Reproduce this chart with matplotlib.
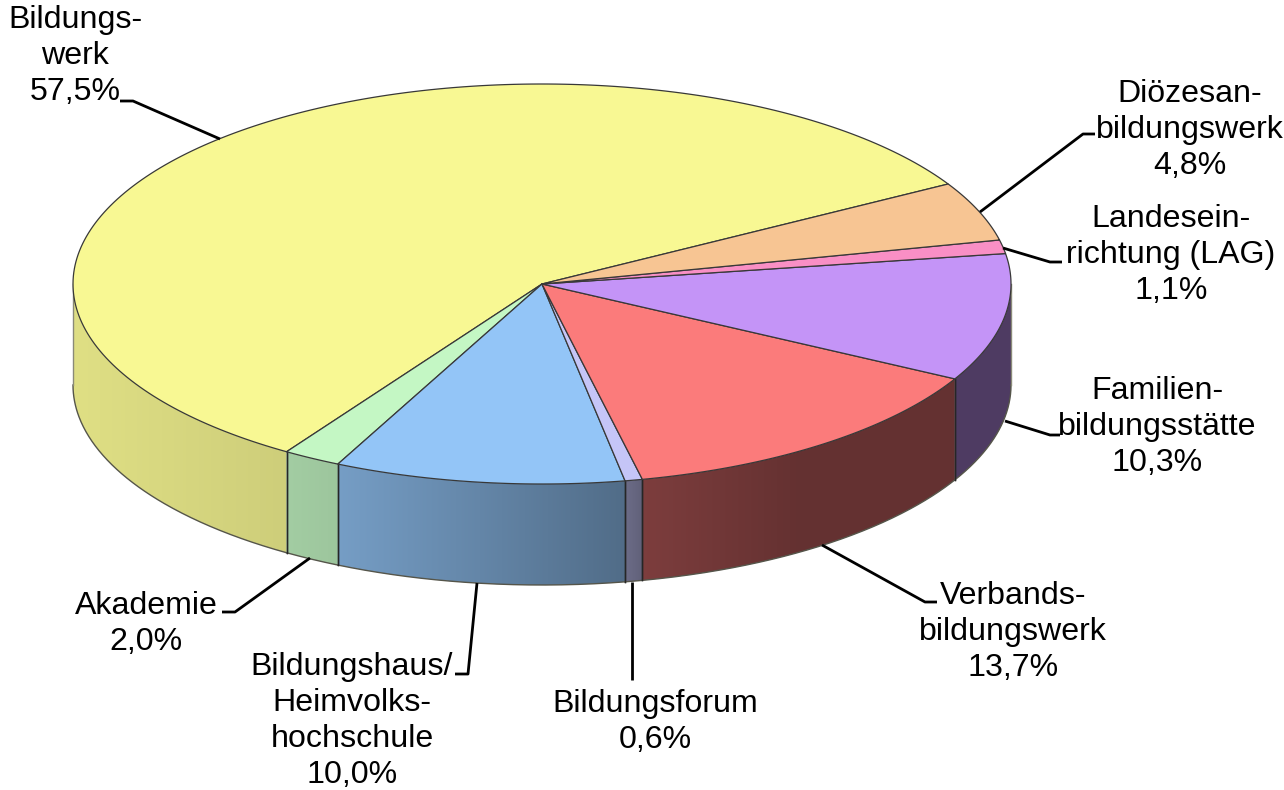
import numpy as np
import matplotlib
matplotlib.use("Agg")
from matplotlib import pyplot as plt
from matplotlib.colors import to_rgb
from matplotlib.patches import Polygon

plt.rcParams['font.family'] = ['Liberation Sans', 'DejaVu Sans']

# values, counter clockwise starting at the Bildungswerk slice
names = ["Bildungs-\nwerk", "Akademie", "Bildungshaus/\nHeimvolks-\nhochschule", "Bildungsforum",
         "Verbands-\nbildungswerk", "Familien-\nbildungsstätte", "Landesein-\nrichtung (LAG)",
         "Diözesan-\nbildungswerk"]
shares = [57.5, 2.0, 10.0, 0.6, 13.7, 10.3, 1.1, 4.8]
colors = ["#f8f893", "#c4f7c4", "#93c5f7", "#c5c5f7", "#fb7b7b", "#c494f7", "#f98fc5", "#f7c593"]

# label centres and leader lines, in pixels
label_pos = [(75, 56), (146, 624), (352, 721), (655, 722), (1013, 632), (1157, 427), (1171, 255), (1190, 130)]
leaders = [[(220, 139), (133, 101), (120, 101)],
           [(310, 558), (235, 612), (222, 612)],
           [(477, 583), (468, 674), (455, 674)],
           [(632, 582), (632, 680)],
           [(822, 545), (925, 602), (937, 602)],
           [(1005, 421), (1050, 435), (1060, 435)],
           [(1003, 248), (1050, 262), (1062, 262)],
           [(980, 212), (1083, 134), (1095, 134)]]

cx, cy = 542, 284
rx, ry = 469, 200
depth = 101
start = 30

# how dark the wall gets going left to right
shade_x = [73, 287, 338, 480, 625, 640, 800, 1012]
shade_f = [0.90, 0.83, 0.80, 0.68, 0.55, 0.50, 0.40, 0.40]


def ell(t):
    t = np.radians(t)
    return cx + rx * np.cos(t), cy - ry * np.sin(t)


fig = plt.figure(figsize=(12.84, 7.9), dpi=100)
ax = fig.add_axes([0, 0, 1, 1])

edges = start + np.cumsum([0] + shares) * 3.6

# side walls, only the front half is visible
grad_x = np.arange(60, 1030)
grad_f = np.interp(grad_x + 0.5, shade_x, shade_f)
for i in range(len(shares)):
    lo = max(edges[i], 180)
    hi = min(edges[i + 1], 360)
    if hi <= lo:
        continue
    ts = np.linspace(lo, hi, 200)
    xs, ys = ell(ts)
    pts = np.c_[np.r_[xs, xs[::-1]], np.r_[ys, ys[::-1] + depth]]
    poly = Polygon(pts, closed=True, facecolor='none', edgecolor='none', transform=ax.transData)
    ax.add_patch(poly)
    img = np.outer(grad_f, to_rgb(colors[i]))[np.newaxis, :, :]
    im = ax.imshow(img, extent=(60, 1030, 700, 200), aspect='auto', interpolation='nearest', zorder=2)
    im.set_clip_path(poly)
    ax.plot(xs, ys + depth, color="#55554a", lw=1.0, zorder=3)
    for t in (lo, hi):
        x, y = ell(t)
        edge = "#8a8a78" if t in (180, 360) else "#262626"
        ax.plot([x, x], [y, y + depth], color=edge, lw=1.0, zorder=3)

ax.set_xlim(0, 1284)
ax.set_ylim(790, 0)
ax.axis('off')

# top face
for i in range(len(shares)):
    ts = np.linspace(edges[i], edges[i + 1], 200)
    xs, ys = ell(ts)
    ax.fill(np.r_[cx, xs], np.r_[cy, ys], facecolor=colors[i], edgecolor="#383838", lw=0.9,
            joinstyle='round', zorder=4)

for i in range(len(shares)):
    px, py = zip(*leaders[i])
    ax.plot(px, py, color="black", lw=2.0, zorder=5, solid_capstyle='butt')
    txt = names[i] + "\n" + f"{shares[i]:.1f}%".replace(".", ",")
    ax.text(label_pos[i][0], label_pos[i][1], txt, ha='center', va='center', fontsize=23.1,
            linespacing=1.27, color="black", zorder=6)

fig.savefig("out.png", dpi=100)
